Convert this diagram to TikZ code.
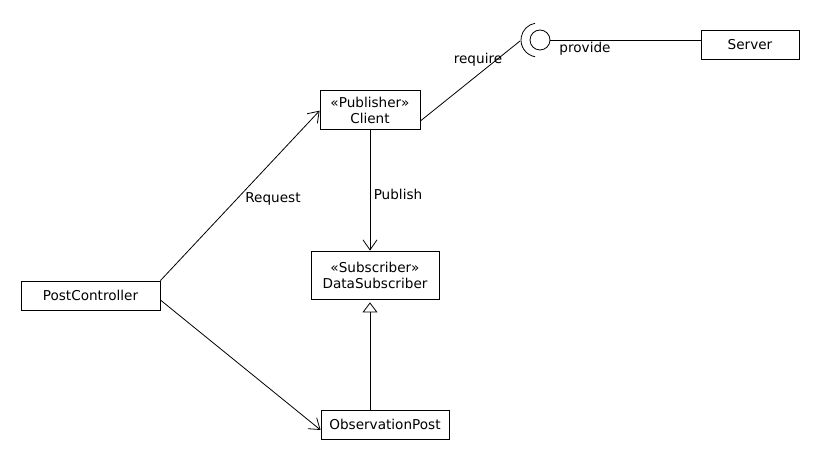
\documentclass[tikz,border=0pt]{standalone}
\usepackage{fontspec}
\setmainfont{DejaVu Sans}
\usetikzlibrary{arrows.meta,calc}
\begin{document}
\begin{tikzpicture}[x=1pt,y=-1pt,
  box/.style={draw,line width=0.8pt,rectangle,inner sep=0pt,align=center,font=\fontsize{13.6}{16}\selectfont},
  lbl/.style={font=\fontsize{13.6}{16}\selectfont,inner sep=0pt},
  conn/.style={line width=0.8pt},
  openarrow/.style={-{Straight Barb[length=10pt,width=14pt,line width=0.8pt]}},
  gen/.style={-{Triangle[open,length=10pt,width=15pt,line width=0.8pt,fill=white]}}
]
\useasboundingbox[fill=white] (0,0) rectangle (820,470);
\node[box,minimum width=100pt,minimum height=39pt] (client) at (370,110) {«Publisher»\\Client};
\node[box,minimum width=98pt,minimum height=29pt] (server) at (750,44.5) {Server};
\node[box,minimum width=128pt,minimum height=48pt] (datasub) at (375,275) {«Subscriber»\\DataSubscriber};
\node[box,minimum width=128pt,minimum height=29pt] (obs) at (385,424.5) {ObservationPost};
\node[box,minimum width=139pt,minimum height=29pt] (pc) at (90.5,295.5) {PostController};
\node[draw,circle,line width=0.8pt,minimum size=20pt,inner sep=0pt] (prov) at (540,40) {};
\coordinate (sock) at (520,41);
\draw[conn] ([shift={(538,40)}]100:17) arc[start angle=100,end angle=260,radius=17];
\coordinate (reqstart) at ($(client.east)+(0,11)$);
\draw[conn] (reqstart) -- (sock);
\draw[conn] (prov.east) -- (server.west |- prov.east);
\draw[conn,openarrow] (pc.north east) -- ($(client.west)+(0,0.7)$);
\draw[conn,openarrow] ($(pc.east)+(0,4.5)$) -- ($(obs.west)+(0,5.5)$);
\draw[conn,openarrow] (client.south) -- (datasub.north -| client.south);
\draw[conn,gen] (obs.north -| client.south) -- ($(datasub.south -| client.south)+(0,3)$);
\node[lbl] (lreq) at (273,199) {Request};
\node[lbl] (lpub) at (398,194) {Publish};
\node[lbl] (lrequire) at (478,59.5) {require};
\node[lbl] (lprov) at (585,49) {provide};
\end{tikzpicture}
\end{document}
